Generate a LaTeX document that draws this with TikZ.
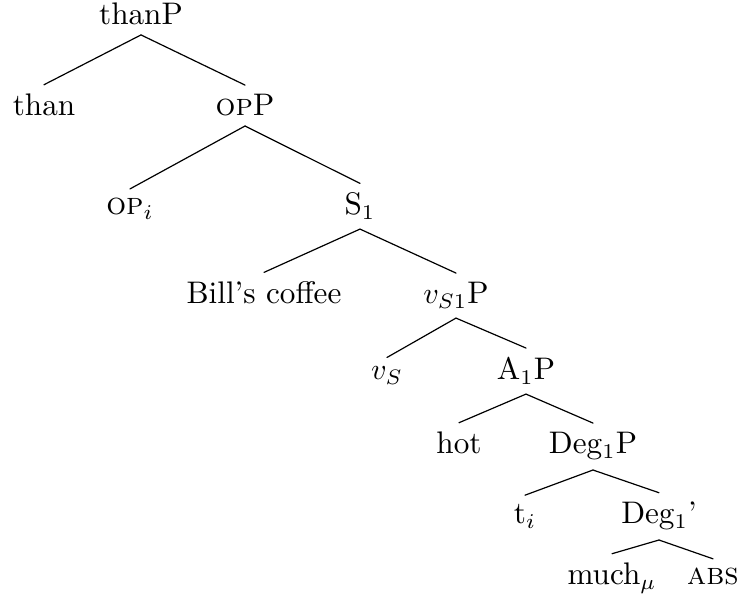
\documentclass[tikz,border=0pt]{standalone}
\usepackage{tikz}

\begin{document}
\begin{tikzpicture}[x=0.3333pt,y=-0.3333pt,line cap=round,line join=round,
  lbl/.style={anchor=base,inner sep=3pt,font=\fontsize{10.4}{12.5}\selectfont},
  branch/.style={line width=0.4pt}]
\path[use as bounding box] (0,0) rectangle (744,611);
% labels
\node[lbl] (thanP) at (141,25) {thanP};
\node[lbl] (than) at (44,116) {than};
\node[lbl] (opP) at (245,116) {\textsc{op}P};
\node[lbl] (opi) at (130,215) {\textsc{op}$_i$};
\node[lbl] (S1) at (360,215) {S$_1$};
\node[lbl] (bill) at (264,304) {Bill's coffee};
\node[lbl] (vSP) at (456,304) {$v_{S1}$P};
\node[lbl] (vS) at (387,380) {$v_S$};
\node[lbl] (AP) at (526,380) {A$_1$P};
\node[lbl] (hot) at (459,454) {hot};
\node[lbl] (DegP) at (593,454) {Deg$_1$P};
\node[lbl] (ti) at (525,524) {t$_i$};
\node[lbl] (Degbar) at (659,524) {Deg$_1$'};
\node[lbl] (much) at (612,585) {much$_\mu$};
\node[lbl] (abs) at (713,585) {\textsc{abs}};
% branches
\draw[branch] (thanP.south) -- (than.north);
\draw[branch] (thanP.south) -- (opP.north);
\draw[branch] (opP.south) -- (opi.north);
\draw[branch] (opP.south) -- (S1.north);
\draw[branch] (S1.south) -- (bill.north);
\draw[branch] (S1.south) -- (vSP.north);
\draw[branch] (vSP.south) -- (vS.north);
\draw[branch] (vSP.south) -- (AP.north);
\draw[branch] (AP.south) -- (hot.north);
\draw[branch] (AP.south) -- (DegP.north);
\draw[branch] (DegP.south) -- (ti.north);
\draw[branch] (DegP.south) -- (Degbar.north);
\draw[branch] (Degbar.south) -- (much.north);
\draw[branch] (Degbar.south) -- (abs.north);
\end{tikzpicture}
\end{document}
